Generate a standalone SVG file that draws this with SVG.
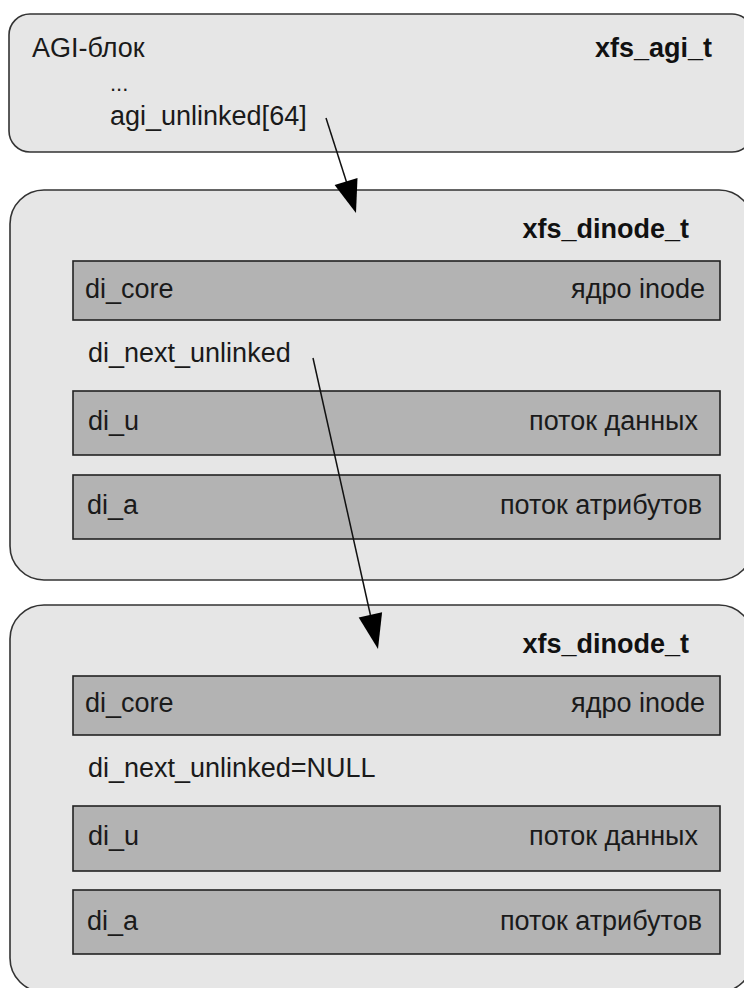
<svg xmlns="http://www.w3.org/2000/svg" width="744" height="988" viewBox="0 0 744 988">
<style>
.box{fill:#e6e6e6;stroke:#333;stroke-width:1.6}
.fld{fill:#b3b3b3;stroke:#222;stroke-width:1.6}
text{font-family:"Liberation Sans",Arial,sans-serif;font-size:27px;fill:#1a1a1a}
.b{font-weight:bold;text-anchor:end;fill:#111}
.r{text-anchor:end}
.ln{stroke:#111;stroke-width:1.5;fill:none}
.ah{fill:#000}
</style>
<rect width="744" height="988" fill="#fff"/>
<g id="agi">
<rect class="box" x="9" y="14" width="744" height="138" rx="21" ry="21"/>
<text x="32" y="57">AGI-блок</text>
<text class="b" x="712" y="57">xfs_agi_t</text>
<text x="110" y="91" style="font-size:22px">...</text>
<text x="110" y="125">agi_unlinked[64]</text>
</g>
<g id="dinode1">
<rect class="box" x="10" y="190" width="743" height="390" rx="34" ry="34"/>
<text class="b" x="689" y="238">xfs_dinode_t</text>
<rect class="fld" x="73" y="261" width="647" height="59"/>
<text x="85" y="298">di_core</text>
<text class="r" x="705" y="298">ядро inode</text>
<text x="88" y="362">di_next_unlinked</text>
<rect class="fld" x="73" y="391" width="647" height="64"/>
<text x="88" y="430">di_u</text>
<text class="r" x="698" y="430">поток данных</text>
<rect class="fld" x="73" y="475" width="647" height="64"/>
<text x="87" y="514">di_a</text>
<text class="r" x="702" y="514">поток атрибутов</text>
</g>
<g id="dinode2">
<rect class="box" x="10" y="605" width="743" height="387" rx="34" ry="34"/>
<text class="b" x="689" y="653">xfs_dinode_t</text>
<rect class="fld" x="73" y="676" width="647" height="59"/>
<text x="85" y="712">di_core</text>
<text class="r" x="705" y="712">ядро inode</text>
<text x="88" y="777">di_next_unlinked=NULL</text>
<rect class="fld" x="73" y="806" width="647" height="65"/>
<text x="88" y="845">di_u</text>
<text class="r" x="698" y="845">поток данных</text>
<rect class="fld" x="73" y="890" width="647" height="64"/>
<text x="87" y="930">di_a</text>
<text class="r" x="702" y="930">поток атрибутов</text>
</g>
<g id="connectors">
<line class="ln" x1="326" y1="118" x2="346.5" y2="182"/>
<polygon class="ah" points="356,213 334.6,185.1 357.5,177.9"/>
<line class="ln" x1="313" y1="358" x2="370.4" y2="615"/>
<polygon class="ah" points="378,649 358.7,617.4 382.1,612.2"/>
</g>
</svg>
